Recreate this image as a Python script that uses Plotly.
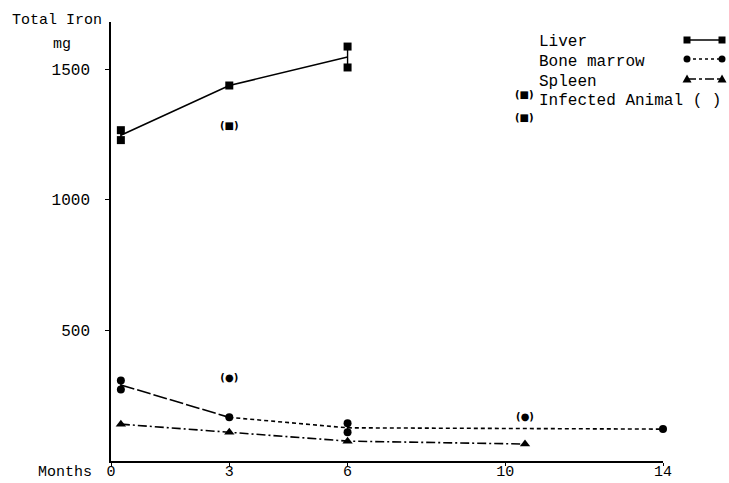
import plotly.graph_objects as go
import numpy as np

# ---------------- data ----------------
x_tick_vals = [0, 3, 6, 10, 14]
y_tick_vals = [500, 1000, 1500]

liver_months = [0.25, 0.25, 3, 6, 6]
liver_iron = [1266, 1228, 1437, 1586, 1506]

marrow_months = [0.25, 0.25, 3, 6, 6, 14]
marrow_iron = [308, 274, 167, 144, 110, 122]

spleen_months = [0.25, 3, 6, 10.5]
spleen_iron = [141, 110, 76, 65]

infected_liver_months = [3]
infected_liver_iron = [1281]
infected_marrow_months = [3, 10.5]
infected_marrow_iron = [316, 167]

legend_labels = ["Liver", "Bone marrow", "Spleen", "Infected Animal ( )"]

# ---------------- layout geometry ----------------
W, H = 729, 483
L, R, T, B = 111, 66, 22, 22
PW, PH = W - L - R, H - T - B
FONT = "Liberation Mono, Courier New, monospace"


def px(x):
    return (x - L) / PW


def py(y):
    return (H - B - y) / PH


def group_stats(xs, ys):
    xs = np.asarray(xs, float)
    ys = np.asarray(ys, float)
    ux = np.unique(xs)
    mean = np.array([ys[xs == u].mean() for u in ux])
    lo = np.array([ys[xs == u].min() for u in ux])
    hi = np.array([ys[xs == u].max() for u in ux])
    return ux, mean, lo, hi


fig = go.Figure()

# Liver
lx, lm, llo, lhi = group_stats(liver_months, liver_iron)
fig.add_trace(go.Scatter(x=lx, y=lm, mode="lines",
                         line=dict(color="black", width=1.6),
                         error_y=dict(type="data", symmetric=False, array=lhi - lm,
                                      arrayminus=lm - llo, width=0, thickness=1.4,
                                      color="black"),
                         showlegend=False))
fig.add_trace(go.Scatter(x=liver_months, y=liver_iron, mode="markers",
                         marker=dict(symbol="square", size=8, color="black"),
                         cliponaxis=False, showlegend=False))

# Bone marrow
mx, mm, mlo, mhi = group_stats(marrow_months, marrow_iron)
fig.add_trace(go.Scatter(x=mx[:2], y=mm[:2], mode="lines",
                         line=dict(color="black", width=1.6, dash="14px,3px"),
                         showlegend=False))
fig.add_trace(go.Scatter(x=mx[1:], y=mm[1:], mode="lines",
                         line=dict(color="black", width=1.6, dash="4px,3px"),
                         showlegend=False))
fig.add_trace(go.Scatter(x=mx, y=mm, mode="lines", line=dict(width=0),
                         error_y=dict(type="data", symmetric=False, array=mhi - mm,
                                      arrayminus=mm - mlo, width=0, thickness=1.4,
                                      color="black"),
                         showlegend=False))
fig.add_trace(go.Scatter(x=marrow_months, y=marrow_iron, mode="markers",
                         marker=dict(symbol="circle", size=8, color="black"),
                         cliponaxis=False, showlegend=False))

# Spleen
fig.add_trace(go.Scatter(x=spleen_months, y=spleen_iron, mode="lines+markers",
                         line=dict(color="black", width=1.6, dash="9px,3px,2px,3px"),
                         marker=dict(symbol="triangle-up", size=9, color="black"),
                         cliponaxis=False, showlegend=False))

# Infected animals
INF_FONT = dict(family="DejaVu Sans", size=10, color="black")
fig.add_trace(go.Scatter(x=infected_liver_months, y=infected_liver_iron, mode="text",
                         text=["<b>(■)</b>"] * len(infected_liver_months),
                         textfont=INF_FONT, showlegend=False))
fig.add_trace(go.Scatter(x=infected_marrow_months, y=infected_marrow_iron, mode="text",
                         text=["<b>(●)</b>"] * len(infected_marrow_months),
                         textfont=INF_FONT, showlegend=False))

# ---------------- custom legend ----------------
shapes = []
annotations = []
leg_x0, leg_x1 = 687, 722
leg_rows = [(40, "solid", "square"), (59, "3px,3px", "circle"), (79, "dashdot", "triangle")]
for (yy, dash, sym) in leg_rows:
    shapes.append(dict(type="line", xref="paper", yref="paper",
                       x0=px(leg_x0), x1=px(leg_x1), y0=py(yy), y1=py(yy),
                       line=dict(color="black", width=1.5, dash=dash)))
    for xc in (leg_x0, leg_x1):
        s = 3.5
        if sym == "square":
            shapes.append(dict(type="rect", xref="paper", yref="paper",
                               x0=px(xc - s), x1=px(xc + s), y0=py(yy - s), y1=py(yy + s),
                               fillcolor="black", line=dict(width=0)))
        elif sym == "circle":
            shapes.append(dict(type="circle", xref="paper", yref="paper",
                               x0=px(xc - s), x1=px(xc + s), y0=py(yy - s), y1=py(yy + s),
                               fillcolor="black", line=dict(width=0)))
        else:
            path = "M {} {} L {} {} L {} {} Z".format(
                px(xc - 4.5), py(yy + 3.5), px(xc + 4.5), py(yy + 3.5), px(xc), py(yy - 4.5))
            shapes.append(dict(type="path", xref="paper", yref="paper", path=path,
                               fillcolor="black", line=dict(width=0)))

for lbl, yy in zip(legend_labels, [42, 62, 82, 101]):
    annotations.append(dict(text=lbl, xref="paper", yref="paper", x=px(537), y=py(yy),
                            xanchor="left", yanchor="middle", showarrow=False,
                            font=dict(family=FONT, size=16, color="black")))
for yy in (95, 117):
    annotations.append(dict(text="<b>(■)</b>", xref="paper", yref="paper", x=px(524), y=py(yy),
                            xanchor="center", yanchor="middle", showarrow=False,
                            font=INF_FONT))

# axis titles
annotations.append(dict(text="Total Iron", xref="paper", yref="paper", x=px(104), y=py(20),
                        xanchor="right", yanchor="middle", showarrow=False,
                        font=dict(family=FONT, size=15, color="black")))
annotations.append(dict(text="mg", xref="paper", yref="paper", x=px(62), y=py(45),
                        xanchor="center", yanchor="middle", showarrow=False,
                        font=dict(family=FONT, size=15, color="black")))
annotations.append(dict(text="Months", xref="paper", yref="paper", x=px(94), y=py(472),
                        xanchor="right", yanchor="middle", showarrow=False,
                        font=dict(family=FONT, size=15, color="black")))

fig.update_layout(
    width=W, height=H,
    margin=dict(l=L, r=R, t=T, b=B, pad=0, autoexpand=False),
    paper_bgcolor="white", plot_bgcolor="white",
    shapes=shapes, annotations=annotations,
    showlegend=False,
    xaxis=dict(range=[0, 14], tickvals=x_tick_vals, ticktext=[str(v) for v in x_tick_vals],
               showline=True, linecolor="black", linewidth=1.6, showgrid=False,
               zeroline=False, ticks="outside", ticklen=3, tickcolor="black",
               ticklabelstandoff=-8, automargin=False,
               tickfont=dict(family=FONT, size=15, color="black")),
    yaxis=dict(range=[0, 1680], tickvals=y_tick_vals, ticktext=[str(v) for v in y_tick_vals],
               showline=True, linecolor="black", linewidth=1.6, showgrid=False,
               zeroline=False, ticks="outside", ticklen=4, tickcolor="black",
               ticklabelstandoff=12, automargin=False,
               tickfont=dict(family=FONT, size=16, color="black")),
)

fig.write_html("out.html")
